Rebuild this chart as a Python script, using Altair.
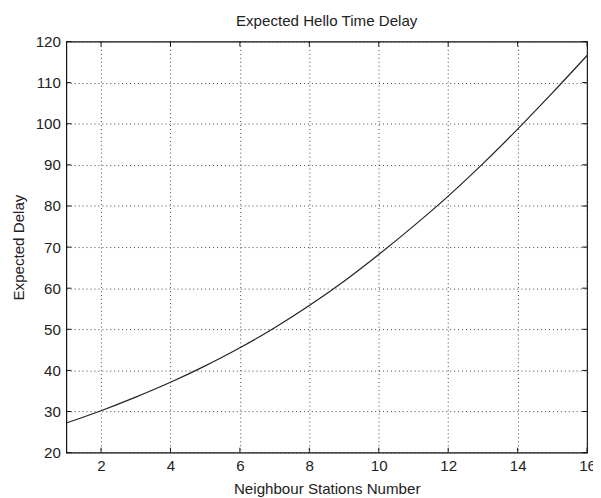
import altair as alt
import pandas as pd

# Data
stations = list(range(1, 17))
delay = [27.2, 30.2, 33.5, 37.1, 41.1, 45.5, 50.4, 55.8, 61.7, 68.2, 75.1, 82.4, 90.3, 98.7, 107.5, 116.6]
x_ticks = [2, 4, 6, 8, 10, 12, 14, 16]
y_ticks = [20, 30, 40, 50, 60, 70, 80, 90, 100, 110, 120]

W, H = 527, 416
TL = 5
FONT = "Liberation Sans"
FS = 15.3
TXT = "#222222"

df = pd.DataFrame({"n": stations, "d": delay})
xt = pd.DataFrame({"n": x_ticks})
yt = pd.DataFrame({"d": y_ticks})

xscale = alt.Scale(domain=[1, 16], nice=False, zero=False)
yscale = alt.Scale(domain=[20, 120], nice=False, zero=False)

xaxis = alt.Axis(
    values=x_ticks, title="Neighbour Stations Number", grid=True,
    gridDash=[1, 3], gridColor="#444444", gridWidth=1, ticks=False, domain=False,
    labelPadding=6, labelFlush=False, labelFont=FONT, labelFontSize=FS, labelColor=TXT,
    titleFont=FONT, titleFontSize=FS, titleFontWeight="normal", titleColor=TXT,
    titleY=41, titleBaseline="alphabetic")
yaxis = alt.Axis(
    values=y_ticks, title="Expected Delay", grid=True,
    gridDash=[1, 3], gridColor="#444444", gridWidth=1, ticks=False, domain=False,
    labelPadding=6, labelFlush=False, labelFont=FONT, labelFontSize=FS, labelColor=TXT,
    titleFont=FONT, titleFontSize=FS, titleFontWeight="normal", titleColor=TXT,
    titleX=-43, titleY=H / 2, titleAngle=270, titleBaseline="alphabetic")

X = alt.X("n:Q", scale=xscale, axis=xaxis)
Y = alt.Y("d:Q", scale=yscale, axis=yaxis)

line = alt.Chart(df).mark_line(color="#222222", strokeWidth=1.2, interpolate="monotone").encode(x=X, y=Y)

xt_bottom = alt.Chart(xt).mark_rule(color="#111111", strokeWidth=1).encode(
    x=X, y=alt.value(H), y2=alt.value(H - TL))
xt_top = alt.Chart(xt).mark_rule(color="#111111", strokeWidth=1).encode(
    x=X, y=alt.value(0), y2=alt.value(TL))
yt_left = alt.Chart(yt).mark_rule(color="#111111", strokeWidth=1).encode(
    y=Y, x=alt.value(0), x2=alt.value(TL))
yt_right = alt.Chart(yt).mark_rule(color="#111111", strokeWidth=1).encode(
    y=Y, x=alt.value(W - TL), x2=alt.value(W))

chart = alt.layer(line, xt_bottom, xt_top, yt_left, yt_right).properties(
    width=W, height=H,
    title=alt.TitleParams("Expected Hello Time Delay", font=FONT, fontSize=FS,
                          fontWeight="normal", color=TXT, baseline="alphabetic",
                          offset=4, dy=11),
    autosize=alt.AutoSizeParams(type="none"),
    padding={"left": 59, "top": 31, "right": 6, "bottom": 43},
    background="white",
).configure_view(stroke="#111111", strokeWidth=1.2)

chart.save("out.html", embed_options={"renderer": "svg", "actions": False})
